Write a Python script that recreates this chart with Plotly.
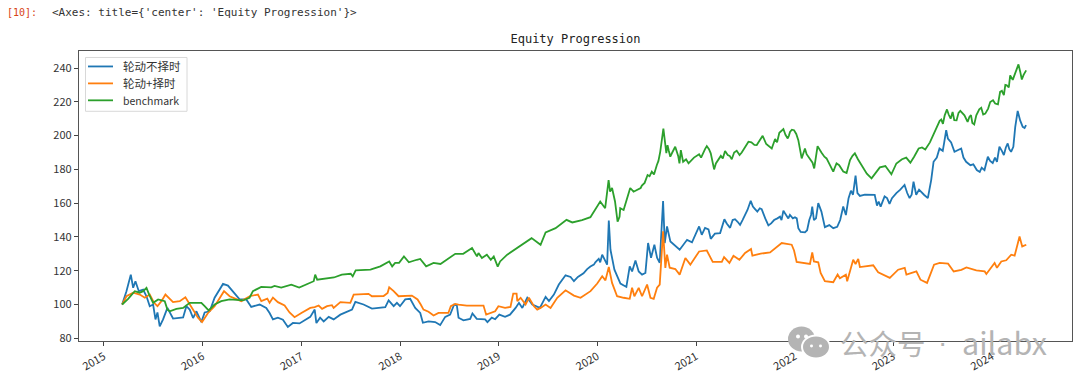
import pandas as pd
import plotly.graph_objects as go

YEAR_TICKS = [2015, 2016, 2017, 2018, 2019, 2020, 2021, 2022, 2023, 2024]
VALUE_TICKS = [80, 100, 120, 140, 160, 180, 200, 220, 240]

BLUE_T = [2015.185,2015.229,2015.273,2015.297,2015.32,2015.354,2015.398,2015.432,2015.465,2015.499,2015.523,2015.543,2015.566,2015.60,2015.644,2015.701,2015.803,2015.836,2015.87,2015.904,2015.938,2015.988,2016.022,2016.073,2016.123,2016.208,2016.258,2016.309,2016.376,2016.444,2016.494,2016.579,2016.646,2016.68,2016.714,2016.764,2016.815,2016.865,2016.916,2016.983,
2017.09,2017.135,2017.152,2017.19,2017.226,2017.277,2017.327,2017.395,2017.462,2017.513,2017.547,2017.63,2017.715,2017.80,2017.85,2017.884,2017.935,2017.968,2018.0,2018.053,2018.103,2018.154,2018.205,2018.232,2018.289,2018.356,2018.407,2018.458,2018.508,2018.549,2018.576,2018.593,2018.643,2018.711,2018.734,2018.778,2018.862,2018.886,2018.93,2018.964,2019.007,2019.065,2019.115,
2019.172,2019.206,2019.24,2019.29,2019.341,2019.418,2019.476,2019.51,2019.56,2019.61,2019.678,2019.729,2019.763,2019.803,2019.897,2019.965,2020.015,2020.05,2020.10,2020.117,2020.134,2020.174,2020.235,2020.295,2020.329,2020.353,2020.387,2020.42,2020.454,2020.488,2020.515,2020.545,2020.579,2020.606,2020.633,2020.667,2020.684,2020.707,2020.741,2020.835,2020.91,2020.96,
2021.03,2021.057,2021.09,2021.125,2021.148,2021.175,2021.243,2021.286,2021.344,2021.394,2021.445,2021.496,2021.553,2021.597,2021.664,2021.732,2021.823,2021.884,2021.934,2022.002,2022.036,2022.103,2022.147,2022.177,2022.194,2022.238,2022.305,2022.39,2022.491,2022.518,2022.569,2022.616,2022.66,2022.81,2022.833,2022.91,2022.96,2023.113,2023.164,2023.204,2023.231,2023.349,2023.383,2023.407,2023.467,2023.535,2023.552,2023.619,2023.687,2023.737,2023.845,2023.923,2023.957,2024.007,2024.075,2024.159,2024.193,2024.216,2024.26,2024.311,2024.345,
2019.86,2019.93,2019.98,2020.03,2021.19,2021.27,2021.31,2021.33,2021.37,2021.42,2021.47,2021.52,2021.575,2021.62,2021.645,2021.70,2021.76,2021.79,2021.85,2021.865,2021.90,2021.95,2021.98,2022.02,2022.06,2022.125,2022.165,2022.215,2022.27,2022.35,2022.43,2022.46,2022.545,2022.59,2022.635,2022.71,2022.76,2022.85,2022.87,2022.935,2022.985,2023.03,2023.07,2023.14,2023.185,2023.26,2023.31,2023.365,2023.44,2023.50,2023.515,2023.585,2023.65,2023.71,2023.78,2023.81,2023.875,2023.895,2023.98,2024.03,2024.05,2024.10,2024.12,2024.14,2024.175,2024.235,2024.285,2024.33]
BLUE_V = [100,107.9,117.7,109.9,113.8,107.9,108.8,104.9,99,100,91.2,95.3,87,91.2,98,91.7,92.3,99,97,92,96,89.6,95.3,96,104,112.2,111.2,107.9,103,103,98.6,100,98,95,91.2,92.2,91,86.7,89.1,88.8,
92.7,97,89,92.2,90,92.7,91.2,94,95.5,97,101.6,100,97.6,98,98.5,102.4,99,101,99,103,103.4,98,95,89.2,90,89.6,87.8,92.7,94,100,99.5,92.2,90.6,91.5,94.7,91.5,91.2,89.6,92.2,91.3,94,92.7,94,
98,101,98,104,100,98,104.5,102,105.9,111.8,117.3,116.3,113.8,116.3,121,123.6,127.1,129.5,123.6,149.7,132.4,120.6,112.4,110.4,122.6,119.6,126.1,119.6,117.7,118.7,136.4,127.7,135.4,127.7,124.7,161.3,136.4,146.2,137.3,132.4,138.3,136.8,
146.2,141.3,145.4,144.5,138.9,141.3,142.3,150.5,145.4,150.5,147.2,153,161.4,156.5,156.5,146.8,151,155.6,151,151.7,145.2,142.7,150,158,150,160,145.8,145.2,158,153,167.4,176.3,164.3,164.9,158.6,164,159.6,170.8,163,172.7,165,163,173.7,184.5,192.4,203.2,198.3,190.4,192.4,184.5,179.6,179.6,187.5,183.8,193.4,195.4,190.4,193.4,214.6,205.2,206.2,
118.5,122.5,125,125,142,147,148,146,150,149,150,156,158,155,157,151,148,150,152,150,154,153,151,151,143,144,153,151,155,147,146,150,163,165,166,165,165,161,158,163,163,166,168,166,165,168,165,168,187,191,196,196,191.5,187,182.5,183,178.5,181,185,187,184.5,191,188.5,193,192,205,209,204.5]

ORANGE_T = [2015.185,2015.229,2015.297,2015.364,2015.415,2015.465,2015.509,2015.543,2015.583,2015.624,2015.701,2015.769,2015.826,2015.86,2015.904,2015.954,2015.995,2016.056,2016.123,2016.19,2016.218,2016.275,2016.393,2016.478,2016.562,2016.596,2016.657,2016.68,2016.714,2016.764,2016.832,2016.882,2016.933,2017.0,
2017.09,2017.135,2017.175,2017.21,2017.26,2017.31,2017.327,2017.395,2017.496,2017.53,2017.68,2017.715,2017.833,2017.874,2017.89,2017.935,2017.985,2018.12,2018.178,2018.21,2018.238,2018.289,2018.34,2018.39,2018.49,2018.515,2018.559,2018.593,2018.677,2018.846,2018.873,2018.964,2018.997,2019.065,2019.12,
2019.148,2019.182,2019.189,2019.223,2019.273,2019.307,2019.358,2019.391,2019.425,2019.476,2019.526,2019.594,2019.678,2019.763,2019.83,2019.931,2019.999,2020.05,2020.083,2020.117,2020.15,2020.201,2020.268,2020.329,2020.353,2020.376,2020.42,2020.454,2020.505,2020.539,2020.572,2020.606,2020.633,2020.667,2020.69,2020.707,2020.734,2020.791,2020.835,2020.893,2020.943,
2021.03,2021.108,2021.168,2021.26,2021.283,2021.337,2021.378,2021.438,2021.496,2021.556,2021.57,2021.654,2021.749,2021.867,2021.968,2021.992,2022.019,2022.154,2022.177,2022.194,2022.238,2022.262,2022.305,2022.39,2022.434,2022.457,2022.518,2022.531,2022.592,2022.616,2022.643,2022.66,2022.795,2022.845,2022.963,2023.048,2023.115,2023.132,2023.233,2023.274,2023.341,2023.412,2023.469,2023.554,2023.611,2023.689,2023.74,2023.84,2023.925,2023.942,2023.992,2024.026,2024.05,2024.094,2024.144,2024.195,2024.229,2024.279,2024.306,2024.347]
ORANGE_V = [100,104.9,107,105.9,104,105.9,101,99,102,105.9,101.4,102,104.3,101,97,92.2,89.6,95,99,104.9,107.9,104.9,102,104.9,105.9,102,103.5,101,104.1,101.4,99.4,95.3,92.5,95,
98,98.5,99.4,97.4,99,99.6,98,101.4,101,105.9,106.3,104.9,105,106.9,110.2,107.9,104.9,105.3,103,100,97,95.7,93.5,95,95,99,100.4,100,99.4,99.4,94,96,99,98,98.6,
106.5,106.5,102,104,100,104,99,97,98,100,98,104,108.4,105.3,104,107.9,112.4,116.7,114.3,122.2,112.8,104.9,104,103.4,109.9,104.9,109.9,104.9,111.8,104,103.4,109.9,111.8,143.3,121.7,129.5,121.8,121,117.7,127.5,123.6,
131.4,132,125.2,125.2,128.1,124.6,128.9,126.5,130.5,132.9,128.9,130.1,130.9,136.4,135.4,132,125.2,124,130.9,125.5,125,118.7,113.8,113.2,117.7,115.5,117.7,113.8,126.5,124,127,122.2,123.2,119.1,115.8,120.6,121.7,117.7,119.6,114.7,112.8,123.6,124.6,124.2,119.6,120.5,122,120.2,119.6,118.1,121.7,124.6,121.7,125.5,126.2,129.5,128.9,140.3,134.4,135.4]

GREEN_T = [2015.185,2015.246,2015.313,2015.364,2015.398,2015.432,2015.459,2015.499,2015.55,2015.617,2015.644,2015.668,2015.735,2015.803,2015.87,2015.988,2016.022,2016.062,2016.123,2016.19,2016.275,2016.41,2016.477,2016.511,2016.595,2016.697,2016.73,2016.798,2016.9,2016.98,
2017.125,2017.14,2017.16,2017.33,2017.41,2017.50,2017.52,2017.55,2017.70,2017.80,2017.89,2017.92,2017.95,2017.99,2018.04,2018.09,2018.17,2018.205,2018.265,2018.34,2018.41,2018.49,2018.56,2018.64,2018.73,2018.78,2018.795,2018.83,2018.88,2018.92,2018.95,2018.99,2019.015,
2019.087,2019.172,2019.256,2019.334,2019.425,2019.476,2019.577,2019.688,2019.746,2019.845,2019.93,2020.03,2020.08,2020.115,2020.13,2020.15,2020.18,2020.206,2020.226,2020.233,2020.267,2020.334,2020.368,2020.452,2020.51,2020.553,2020.604,2020.638,2020.67,2020.70,2020.712,2020.74,2020.79,2020.833,2020.847,2020.925,2021.01,
2021.074,2021.108,2021.148,2021.182,2021.226,2021.293,2021.361,2021.411,2021.462,2021.53,2021.614,2021.674,2021.766,2021.843,2021.884,2021.928,2021.951,2021.992,2022.036,2022.07,2022.103,2022.154,2022.197,2022.231,2022.322,2022.39,2022.423,2022.491,2022.525,2022.609,2022.677,2022.778,2022.862,2022.918,2022.979,
2023.087,2023.172,2023.256,2023.323,2023.425,2023.469,2023.502,2023.543,2023.617,2023.678,2023.752,2023.786,2023.819,2023.87,2023.931,2023.981,2024.032,2024.082,2024.15,2024.184,2024.268,2024.302,2024.346,
2020.44,2020.48,2020.53,2020.575,2020.62,2020.725,2020.76,2020.775,2020.82,2020.87,2020.90,2020.98,2021.03,2021.05,2021.09,2021.13,2021.20,2021.25,2021.27,2021.32,2021.34,2021.385,2021.44,2021.49,2021.56,2021.59,2021.64,2021.71,2021.80,2021.82,2021.86,2021.905,2021.94,2021.97,2022.015,2022.12,2022.18,2022.22,2022.27,2022.30,2022.36,2022.405,2022.45,2022.56,2022.585,2022.64,2022.70,2022.73,2022.81,
2022.95,2023.03,2023.13,2023.21,2023.29,2023.37,2023.40,2023.445,2023.485,2023.52,2023.56,2023.58,2023.60,2023.64,2023.66,2023.72,2023.77,2023.80,2023.84,2023.89,2023.91,2023.96,2024.01,2024.06,2024.10,2024.12,2024.135,2024.17,2024.21,2024.24,2024.285,2024.32]
GREEN_V = [100,103.3,107.9,107,107.9,109.9,105.9,101,103,102,97,96,97.4,98,101,101,99,96.5,100,102,103,102.4,104,107.9,110.4,110.2,111,110,111.8,110,
113.8,117.7,114.7,116,117.7,118.2,116.7,120.2,120.6,122.6,125.5,122.6,124.7,124.7,128.5,125,126.5,127,122.6,124.6,124,127,130,130,133.4,128.5,130.5,127.6,129.5,126.5,128.5,122.4,125.5,
129.5,132.9,136.4,139.3,135.4,142.7,145.2,150.1,148.6,150,151.7,161,157,173.7,166.8,169,161,149,152,157,156,169,166.8,170.4,176.7,178.7,182.6,190.4,204.2,189.6,194.4,187.5,193.4,183.6,191.4,183.6,188.5,
190.4,193.8,189.5,180,185.5,190.9,186,191,190,196.4,194.4,199.9,192.4,201.7,203.9,198.3,202.2,203.2,197.3,186.5,192.4,186.5,180.6,193.8,186.5,178.7,183.6,178.7,177.9,189.5,182.6,174.7,181.2,182,177.1,
186,184,192.4,191.8,203.2,208.7,207,215.5,209.1,214.7,208.1,212.1,206.6,215.6,213,219.9,219,225.9,229.8,235.7,242.2,233.2,238.6,
169,172,176,177,185,191,190,192,188,184.5,186,187,189,187,192,192,183.5,188,186.5,188.5,188,190,188.5,193,196,194.5,196.5,195,198,196,202.5,200.5,200,203.5,201,189,184,190,190,187.5,182,181,182.5,185.5,188,186,180,177.5,177,
179.5,183.5,187,187.5,193,196,200,206,209.5,212,212.5,210,214,209,213.5,212,211,207.5,212,216.5,212.5,216,221,218.5,226.5,224,230,228.5,233,237.5,238,236]


def to_dates(years):
    out = []
    for y in years:
        whole = int(y)
        out.append(pd.Timestamp(year=whole, month=1, day=1) + pd.Timedelta(days=(y - whole) * 365.25))
    return out


fig = go.Figure()
SERIES = [
    ("轮动不择时", BLUE_T, BLUE_V, "#1f77b4"),
    ("轮动+择时", ORANGE_T, ORANGE_V, "#ff7f0e"),
    ("benchmark", GREEN_T, GREEN_V, "#2ca02c"),
]
for name, t, v, color in SERIES:
    ordered = sorted(zip(t, v))
    fig.add_trace(go.Scatter(x=to_dates([p[0] for p in ordered]), y=[p[1] for p in ordered],
                             name=name, mode="lines", line=dict(color=color, width=1.8),
                             showlegend=False))

GRAY = "#b4b4b4"
CJK = "Noto Sans CJK SC, sans-serif"
TICK_FONT = dict(family="Noto Sans CJK SC, Liberation Sans, sans-serif", size=11, color="#333333")
MONO = "DejaVu Sans Mono, monospace"
fig.update_layout(
    width=1080, height=387, autosize=False,
    margin=dict(l=79, r=8, t=50.5, b=45.5),
    paper_bgcolor="white", plot_bgcolor="white",
    title=dict(text="Equity Progression", x=0.5, xref="paper", xanchor="center",
               y=1 - 39 / 387, yref="container", yanchor="middle",
               font=dict(family=MONO, size=12, color="#222222")),
    xaxis=dict(range=["2014-10-01", "2024-10-23"], tickmode="array",
               tickvals=[f"{y}-01-01" for y in YEAR_TICKS], ticktext=[str(y) for y in YEAR_TICKS],
               tickangle=-30, ticks="outside", ticklen=4, tickwidth=1, tickcolor="#444444",
               showgrid=False, zeroline=False, showline=True, linecolor="#555555", linewidth=1.2,
               mirror=True, tickfont=TICK_FONT),
    yaxis=dict(range=[78.4, 250.1], tickmode="array", tickvals=VALUE_TICKS,
               ticktext=[str(v) for v in VALUE_TICKS], ticks="outside", ticklen=4, tickwidth=1,
               tickcolor="#444444", showgrid=False, zeroline=False, showline=True,
               linecolor="#555555", linewidth=1.2, mirror=True, tickfont=TICK_FONT),
)


def px_x(p):
    return (p - 79) / 993


def px_y(p):
    return 1 - (p - 50.5) / 291


notes = [
    ("[10]:", 5, 12, MONO, 10, "#d84315"),
    ("&lt;Axes: title={'center': 'Equity Progression'}&gt;", 50, 12, MONO, 11, "#333333"),
    ("公众号", 838, 343, CJK, 28.5, GRAY),
    ("·", 936, 343, "Liberation Sans, sans-serif", 28, GRAY),
    ("ailabx", 960, 343, CJK, 30.5, GRAY),
    ("轮动不择时", 121, 66, CJK, 11.5, "#333333"),
    ("轮动+择时", 121, 83, CJK, 11.5, "#333333"),
    ("benchmark", 121, 100, CJK, 10.5, "#333333"),
]
for text, x, y, fam, size, color in notes:
    fig.add_annotation(text=text, x=px_x(x), y=px_y(y), xref="paper", yref="paper",
                       xanchor="left", yanchor="middle", showarrow=False,
                       font=dict(family=fam, size=size, color=color))

# legend frame and keys
fig.add_shape(type="rect", xref="paper", yref="paper",
              x0=px_x(85.5), x1=px_x(187), y0=px_y(111), y1=px_y(57),
              fillcolor="rgba(255,255,255,0.8)", line=dict(color="#d8d8d8", width=1), layer="above")
for (_, _, _, color), y in zip(SERIES, [66, 83, 100]):
    fig.add_shape(type="line", xref="paper", yref="paper",
                  x0=px_x(88), x1=px_x(113), y0=px_y(y), y1=px_y(y),
                  line=dict(color=color, width=1.8), layer="above")

# watermark icon
for x0, y0, x1, y1, fill in [
    (788, 327, 815, 352, GRAY), (801, 335, 831, 360, "white"), (803, 337, 829, 358, GRAY),
    (796, 335, 800, 339, "white"), (804, 335, 808, 339, "white"),
    (810, 345, 813, 348, "white"), (819, 345, 822, 348, "white"),
]:
    fig.add_shape(type="circle", xref="paper", yref="paper",
                  x0=px_x(x0), x1=px_x(x1), y0=px_y(y1), y1=px_y(y0),
                  fillcolor=fill, line_width=0, layer="above")

fig.write_html("out.html", config={"displayModeBar": False},
               post_script="document.body.style.margin='0';document.body.style.overflow='hidden';")
